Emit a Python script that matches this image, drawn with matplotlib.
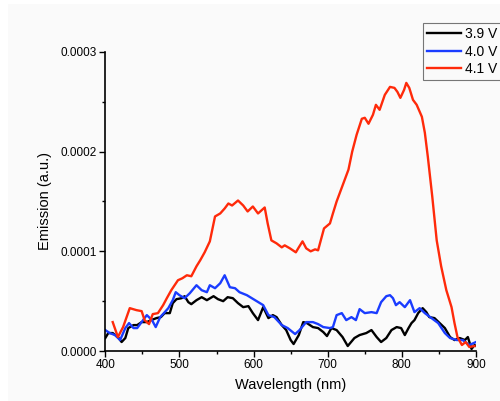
import numpy as np
import matplotlib
matplotlib.use("Agg")
import matplotlib.pyplot as plt
from matplotlib.patches import Rectangle
from matplotlib.ticker import MultipleLocator, FormatStrFormatter

plt.rcParams['font.family'] = ['Liberation Sans', 'DejaVu Sans']

wl_39 = [400, 404, 410, 417, 422, 427, 431, 438, 443, 449, 456, 462, 469, 475, 480, 487, 491, 496,
         503, 507, 512, 516, 523, 530, 537, 546, 552, 559, 565, 572, 579, 586, 593, 599, 606, 613,
         620, 626, 631, 638, 644, 650, 654, 661, 667, 672, 680, 687, 694, 699, 705, 712, 720, 727,
         736, 743, 752, 759, 766, 772, 779, 786, 793, 799, 804, 809, 813, 817, 822, 828, 833, 837,
         844, 851, 858, 865, 871, 878, 885, 889, 894, 898, 900]
em_39 = [0.13, 0.18, 0.18, 0.14, 0.09, 0.13, 0.23, 0.26, 0.26, 0.29, 0.29, 0.31, 0.33, 0.34, 0.38,
         0.38, 0.48, 0.52, 0.53, 0.55, 0.49, 0.47, 0.51, 0.54, 0.51, 0.55, 0.52, 0.50, 0.54, 0.53,
         0.48, 0.44, 0.45, 0.38, 0.31, 0.44, 0.33, 0.36, 0.34, 0.26, 0.21, 0.11, 0.07, 0.16, 0.29,
         0.28, 0.24, 0.23, 0.19, 0.15, 0.23, 0.21, 0.14, 0.05, 0.13, 0.16, 0.18, 0.21, 0.14, 0.09,
         0.13, 0.21, 0.24, 0.23, 0.16, 0.23, 0.28, 0.31, 0.38, 0.43, 0.39, 0.34, 0.33, 0.28, 0.23,
         0.14, 0.11, 0.13, 0.11, 0.14, 0.02, 0.06, 0.05]

wl_40 = [400, 406, 413, 420, 427, 432, 438, 443, 449, 456, 463, 468, 474, 479, 485, 491, 495, 500,
         507, 514, 523, 530, 537, 541, 548, 555, 561, 568, 575, 581, 591, 602, 613, 620, 628, 638,
         646, 656, 662, 671, 680, 687, 694, 703, 707, 712, 719, 725, 732, 738, 743, 750, 759, 766,
         772, 779, 784, 788, 792, 797, 804, 811, 817, 824, 831, 840, 849, 858, 865, 874, 882, 891, 900]
em_40 = [0.21, 0.18, 0.16, 0.11, 0.23, 0.28, 0.23, 0.23, 0.29, 0.36, 0.31, 0.24, 0.34, 0.38, 0.43,
         0.51, 0.59, 0.56, 0.53, 0.58, 0.66, 0.61, 0.59, 0.66, 0.63, 0.68, 0.76, 0.64, 0.63, 0.59,
         0.56, 0.51, 0.46, 0.36, 0.34, 0.26, 0.23, 0.17, 0.21, 0.29, 0.29, 0.27, 0.24, 0.23, 0.24,
         0.36, 0.38, 0.31, 0.34, 0.31, 0.42, 0.38, 0.39, 0.38, 0.49, 0.55, 0.56, 0.53, 0.46, 0.49,
         0.44, 0.51, 0.39, 0.43, 0.38, 0.33, 0.28, 0.18, 0.13, 0.11, 0.11, 0.06, 0.09]

wl_41 = [410, 417, 424, 433, 442, 449, 453, 459, 464, 471, 478, 483, 489, 498, 504, 510, 516, 523,
         528, 534, 541, 548, 555, 561, 566, 571, 579, 586, 592, 599, 606, 615, 619, 624, 631, 638,
         642, 649, 657, 661, 666, 671, 677, 683, 687, 695, 703, 707, 712, 721, 728, 733, 739, 746,
         750, 755, 761, 765, 770, 777, 784, 790, 794, 798, 803, 806, 810, 815, 820, 827, 831, 835,
         841, 847, 853, 860, 867, 871, 875, 881, 886, 891, 898]
em_41 = [0.29, 0.14, 0.24, 0.43, 0.41, 0.40, 0.31, 0.27, 0.37, 0.38, 0.46, 0.53, 0.61, 0.71, 0.73,
         0.76, 0.75, 0.85, 0.91, 0.99, 1.10, 1.35, 1.38, 1.43, 1.48, 1.46, 1.51, 1.46, 1.40, 1.45,
         1.38, 1.44, 1.28, 1.11, 1.08, 1.04, 1.06, 1.03, 0.99, 1.04, 1.10, 1.03, 1.00, 1.02, 1.01,
         1.23, 1.28, 1.38, 1.50, 1.68, 1.82, 2.00, 2.17, 2.33, 2.34, 2.28, 2.37, 2.47, 2.42, 2.57,
         2.65, 2.64, 2.60, 2.54, 2.62, 2.69, 2.64, 2.52, 2.47, 2.35, 2.19, 1.95, 1.55, 1.11, 0.85,
         0.61, 0.44, 0.28, 0.14, 0.06, 0.09, 0.04, 0.05]

labels = ['3.9 V', '4.0 V', '4.1 V']
colors = ['#000000', '#1a3cff', '#ff2a0a']

fig = plt.figure(figsize=(5, 4.01), dpi=100)
fig.patch.set_facecolor('white')
fig.patches.append(Rectangle((8 / 500, 0), 1, 1 - 4 / 401, transform=fig.transFigure,
                             facecolor='#fafafa', edgecolor='none', zorder=-10))

ax = fig.add_axes([105.3 / 500, 1 - 351 / 401, (476 - 105.3) / 500, (351 - 52) / 401])
ax.set_facecolor('none')

series = [(wl_39, em_39), (wl_40, em_40), (wl_41, em_41)]
lines = []
for (x, y), lab, c in zip(series, labels, colors):
    ln, = ax.plot(x, np.array(y) * 1e-4, color=c, lw=1.7, label=lab)
    lines.append(ln)

ax.set_xlim(400, 900)
ax.set_ylim(0, 0.0003)
ax.xaxis.set_major_locator(MultipleLocator(100))
ax.xaxis.set_minor_locator(MultipleLocator(50))
ax.yaxis.set_major_locator(MultipleLocator(0.0001))
ax.yaxis.set_minor_locator(MultipleLocator(0.00005))
ax.yaxis.set_major_formatter(FormatStrFormatter('%.4f'))
ax.tick_params(which='major', direction='out', length=4, width=1, labelsize=8.5, pad=2)
ax.tick_params(which='minor', direction='out', length=2.5, width=1)
for s in ['top', 'right']:
    ax.spines[s].set_visible(False)
for s in ['left', 'bottom']:
    ax.spines[s].set_linewidth(1.2)

ax.set_xlabel('Wavelength (nm)', fontsize=10.5, labelpad=5)
ax.set_ylabel('Emission (a.u.)', fontsize=10.5, labelpad=6)

leg = fig.legend(handles=lines, loc='upper left', bbox_to_anchor=(423 / 500, 1 - 23 / 401),
                 fontsize=10, frameon=True, fancybox=False, handlelength=2.4,
                 handletextpad=0.3, labelspacing=0.25, borderpad=0.3, borderaxespad=0)
leg.get_frame().set_edgecolor('#555555')
leg.get_frame().set_linewidth(0.8)
leg.get_frame().set_facecolor('#fafafa')

fig.savefig('out.png', dpi=100)
